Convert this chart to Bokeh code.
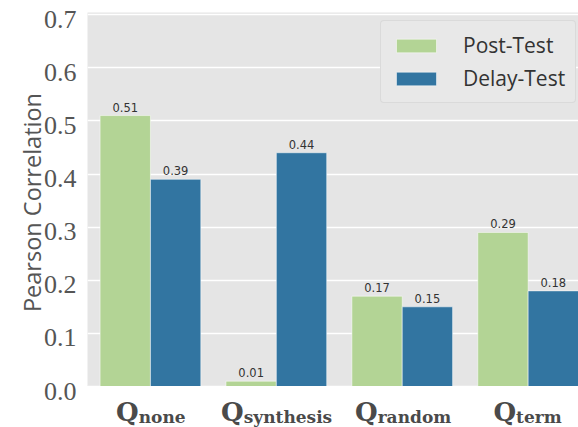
import numpy as np
from bokeh.plotting import figure
from bokeh.layouts import column, row
from bokeh.core.properties import value
from bokeh.models import (Range1d, ColumnDataSource, LabelSet, Legend, LegendItem)
from bokeh.embed import file_html
from bokeh.resources import INLINE

# ---- data ----
categories = ["none", "synthesis", "random", "term"]
post_test = [0.51, 0.01, 0.17, 0.29]
delay_test = [0.39, 0.44, 0.15, 0.18]
series_names = ["Post-Test", "Delay-Test"]
y_ticks = [0.0, 0.1, 0.2, 0.3, 0.4, 0.5, 0.6, 0.7]
y_title = "Pearson Correlation"

# ---- layout / style ----
GREEN = "#b3d495"
BLUE = "#3275a1"
BG = "#e5e5e5"
TXT_GREY = "#555555"
LEFT_W = 87            # width of the y-axis strip
MAIN_W = 578 - LEFT_W  # frame width
TOP_B, FRAME_H, BOT_H = 12, 374, 41
TOTAL_H = TOP_B + FRAME_H + BOT_H
Y0, Y1 = 0.0, 0.704
PPU = FRAME_H / (Y1 - Y0)

# ---- main bar plot ----
p = figure(width=MAIN_W, height=TOP_B + FRAME_H, output_backend="svg", toolbar_location=None,
           x_range=Range1d(-0.5, 3.4), y_range=Range1d(Y0, Y1),
           x_axis_type=None, y_axis_type=None,
           min_border_left=0, min_border_right=0, min_border_top=TOP_B, min_border_bottom=0,
           background_fill_color=BG, border_fill_color="white")
p.outline_line_color = None
p.ygrid.visible = False

# horizontal grid lines at tick values (drawn through the plot's scales)
p.hspan(y=y_ticks, line_color="white", line_width=1.5, level="underlay")

xs = np.arange(len(categories))
src = ColumnDataSource(dict(
    x_post=xs - 0.2, x_delay=xs + 0.2,
    post=post_test, delay=delay_test,
    post_txt=[f"{v:.2f}" for v in post_test],
    delay_txt=[f"{v:.2f}" for v in delay_test],
))

r_post = p.vbar(x="x_post", top="post", width=0.4, source=src, fill_color=GREEN,
                line_color="white", line_width=1, line_alpha=0.5)
r_delay = p.vbar(x="x_delay", top="delay", width=0.4, source=src, fill_color=BLUE,
                 line_color="white", line_width=1, line_alpha=0.5)

for xcol, ycol, tcol in [("x_post", "post", "post_txt"), ("x_delay", "delay", "delay_txt")]:
    p.add_layout(LabelSet(x=xcol, y=ycol, text=tcol, source=src, y_offset=4,
                          text_align="center", text_baseline="alphabetic",
                          text_font=value("DejaVu Sans"), text_font_size=value("11.5px"),
                          text_color="#333333"))

legend = Legend(items=[LegendItem(label=series_names[0], renderers=[r_post]),
                       LegendItem(label=series_names[1], renderers=[r_delay])],
                location=(MAIN_W - 5 - 193, FRAME_H - 11 - 80), margin=0, padding=10,
                spacing=5, glyph_width=50, glyph_height=17, label_standoff=22,
                label_text_font="Open Sans", label_text_font_size="21px",
                label_text_color="#333333",
                background_fill_color="#e8e8e8", background_fill_alpha=1.0,
                border_line_color="#cccccc", border_line_width=1, border_radius=4)
p.add_layout(legend)

# ---- y-axis strip: tick labels and title ----
pl = figure(width=LEFT_W, height=TOTAL_H, output_backend="svg", toolbar_location=None,
            x_range=Range1d(0, LEFT_W),
            y_range=Range1d(Y0 - BOT_H / PPU, Y1 + TOP_B / PPU),
            x_axis_type=None, y_axis_type=None,
            min_border_left=0, min_border_right=0, min_border_top=0, min_border_bottom=0,
            background_fill_color="white", border_fill_color="white")
pl.outline_line_color = None
pl.text(x=[76] * len(y_ticks), y=y_ticks, text=[f"{t:.1f}" for t in y_ticks],
        y_offset=4.5, text_align="right", text_baseline="middle",
        text_font=value("Liberation Serif"), text_font_size=value("26px"),
        text_color=TXT_GREY)
pl.text(x=[31], y=[(Y0 + Y1) / 2], text=[y_title], angle=np.pi / 2, y_offset=3,
        text_align="center", text_baseline="alphabetic",
        text_font=value("Open Sans"), text_font_size=value("23.5px"),
        text_color=TXT_GREY)

# ---- category labels strip: bold Q with subscript ----
p2 = figure(width=MAIN_W, height=BOT_H, output_backend="svg", toolbar_location=None,
            x_range=p.x_range, y_range=Range1d(BOT_H, 0),
            x_axis_type=None, y_axis_type=None,
            min_border_left=0, min_border_right=0, min_border_top=0, min_border_bottom=0,
            background_fill_color="white", border_fill_color="white")
p2.outline_line_color = None

char_em = {"a": .602, "d": .64, "e": .604, "h": .712, "i": .358, "m": 1.052, "n": .712,
           "o": .602, "r": .538, "s": .525, "t": .478, "y": .65}
Q_SIZE, SUB_SIZE = 26, 17
q_w = 0.82 * Q_SIZE
junctions = []
for cat in categories:
    sub_w = sum(char_em.get(c, .6) for c in cat) * SUB_SIZE
    junctions.append(-(q_w + sub_w) / 2 + q_w)

lab_src = ColumnDataSource(dict(x=xs, q=["Q"] * len(categories), sub=categories,
                                off=junctions, yq=[25] * len(categories),
                                ys=[30] * len(categories)))
p2.text(x="x", y="yq", text="q", x_offset="off", source=lab_src,
        text_align="right", text_baseline="alphabetic",
        text_font=value("DejaVu Serif"), text_font_style="bold",
        text_font_size=value(f"{Q_SIZE}px"), text_color="#4a4a4a")
p2.text(x="x", y="ys", text="sub", x_offset="off", source=lab_src,
        text_align="left", text_baseline="alphabetic",
        text_font=value("DejaVu Serif"), text_font_style="bold",
        text_font_size=value(f"{SUB_SIZE}px"), text_color="#4a4a4a")

layout = row(pl, column(p, p2, spacing=0), spacing=0)
open("out.html", "w").write(file_html(layout, INLINE))
